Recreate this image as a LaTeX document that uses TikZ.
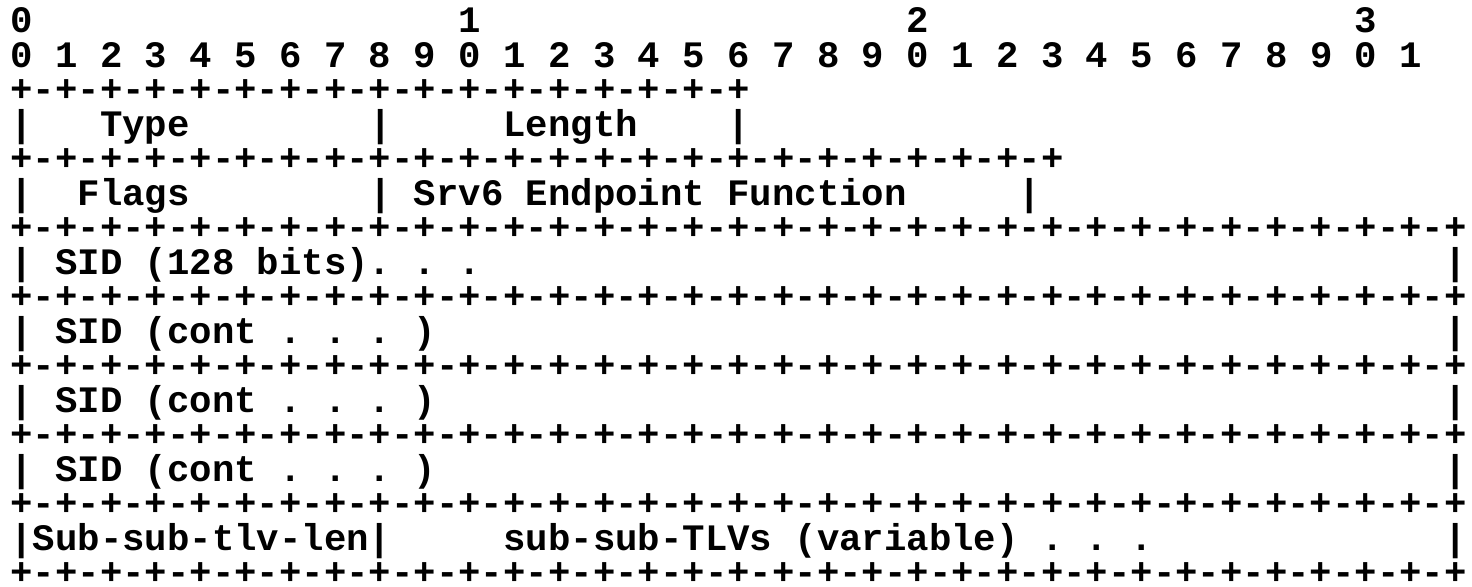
\documentclass[tikz,border=0pt]{standalone}
\usepackage{fontspec}
\newfontfamily\asciimono[BoldFont={Liberation Mono Bold}]{Liberation Mono}
\begin{document}
\begin{tikzpicture}[x=0.5pt,y=-0.5pt,
  asciirow/.style={anchor=base west,inner sep=0pt,outer sep=0pt,text depth=0pt,
    font=\asciimono\bfseries\fontsize{18.67pt}{20pt}\selectfont}]
\useasboundingbox (0,0) rectangle (1472,586);
\def\rowy#1{32.5+34.5*#1}
\node[asciirow] (r0) at (10.5,{\rowy{0}}) {0~~~~~~~~~~~~~~~~~~~1~~~~~~~~~~~~~~~~~~~2~~~~~~~~~~~~~~~~~~~3};
\node[asciirow] (r1) at (10.5,{\rowy{1}}) {0~1~2~3~4~5~6~7~8~9~0~1~2~3~4~5~6~7~8~9~0~1~2~3~4~5~6~7~8~9~0~1};
\node[asciirow] (r2) at (10.5,{\rowy{2}}) {+-+-+-+-+-+-+-+-+-+-+-+-+-+-+-+-+};
\node[asciirow] (r3) at (10.5,{\rowy{3}}) {|~~~Type~~~~~~~~|~~~~~Length~~~~|};
\node[asciirow] (r4) at (10.5,{\rowy{4}}) {+-+-+-+-+-+-+-+-+-+-+-+-+-+-+-+-+-+-+-+-+-+-+-+};
\node[asciirow] (r5) at (10.5,{\rowy{5}}) {|~~Flags~~~~~~~~|~Srv6~Endpoint~Function~~~~~|};
\node[asciirow] (r6) at (10.5,{\rowy{6}}) {+-+-+-+-+-+-+-+-+-+-+-+-+-+-+-+-+-+-+-+-+-+-+-+-+-+-+-+-+-+-+-+-+};
\node[asciirow] (r7) at (10.5,{\rowy{7}}) {|~SID~(128~bits).~.~.~~~~~~~~~~~~~~~~~~~~~~~~~~~~~~~~~~~~~~~~~~~|};
\node[asciirow] (r8) at (10.5,{\rowy{8}}) {+-+-+-+-+-+-+-+-+-+-+-+-+-+-+-+-+-+-+-+-+-+-+-+-+-+-+-+-+-+-+-+-+};
\node[asciirow] (r9) at (10.5,{\rowy{9}}) {|~SID~(cont~.~.~.~)~~~~~~~~~~~~~~~~~~~~~~~~~~~~~~~~~~~~~~~~~~~~~|};
\node[asciirow] (r10) at (10.5,{\rowy{10}}) {+-+-+-+-+-+-+-+-+-+-+-+-+-+-+-+-+-+-+-+-+-+-+-+-+-+-+-+-+-+-+-+-+};
\node[asciirow] (r11) at (10.5,{\rowy{11}}) {|~SID~(cont~.~.~.~)~~~~~~~~~~~~~~~~~~~~~~~~~~~~~~~~~~~~~~~~~~~~~|};
\node[asciirow] (r12) at (10.5,{\rowy{12}}) {+-+-+-+-+-+-+-+-+-+-+-+-+-+-+-+-+-+-+-+-+-+-+-+-+-+-+-+-+-+-+-+-+};
\node[asciirow] (r13) at (10.5,{\rowy{13}}) {|~SID~(cont~.~.~.~)~~~~~~~~~~~~~~~~~~~~~~~~~~~~~~~~~~~~~~~~~~~~~|};
\node[asciirow] (r14) at (10.5,{\rowy{14}}) {+-+-+-+-+-+-+-+-+-+-+-+-+-+-+-+-+-+-+-+-+-+-+-+-+-+-+-+-+-+-+-+-+};
\node[asciirow] (r15) at (10.5,{\rowy{15}}) {|Sub-sub-tlv-len|~~~~~sub-sub-TLVs~(variable)~.~.~.~~~~~~~~~~~~~|};
\node[asciirow] (r16) at (10.5,{\rowy{16}}) {+-+-+-+-+-+-+-+-+-+-+-+-+-+-+-+-+-+-+-+-+-+-+-+-+-+-+-+-+-+-+-+-+};
\end{tikzpicture}
\end{document}
